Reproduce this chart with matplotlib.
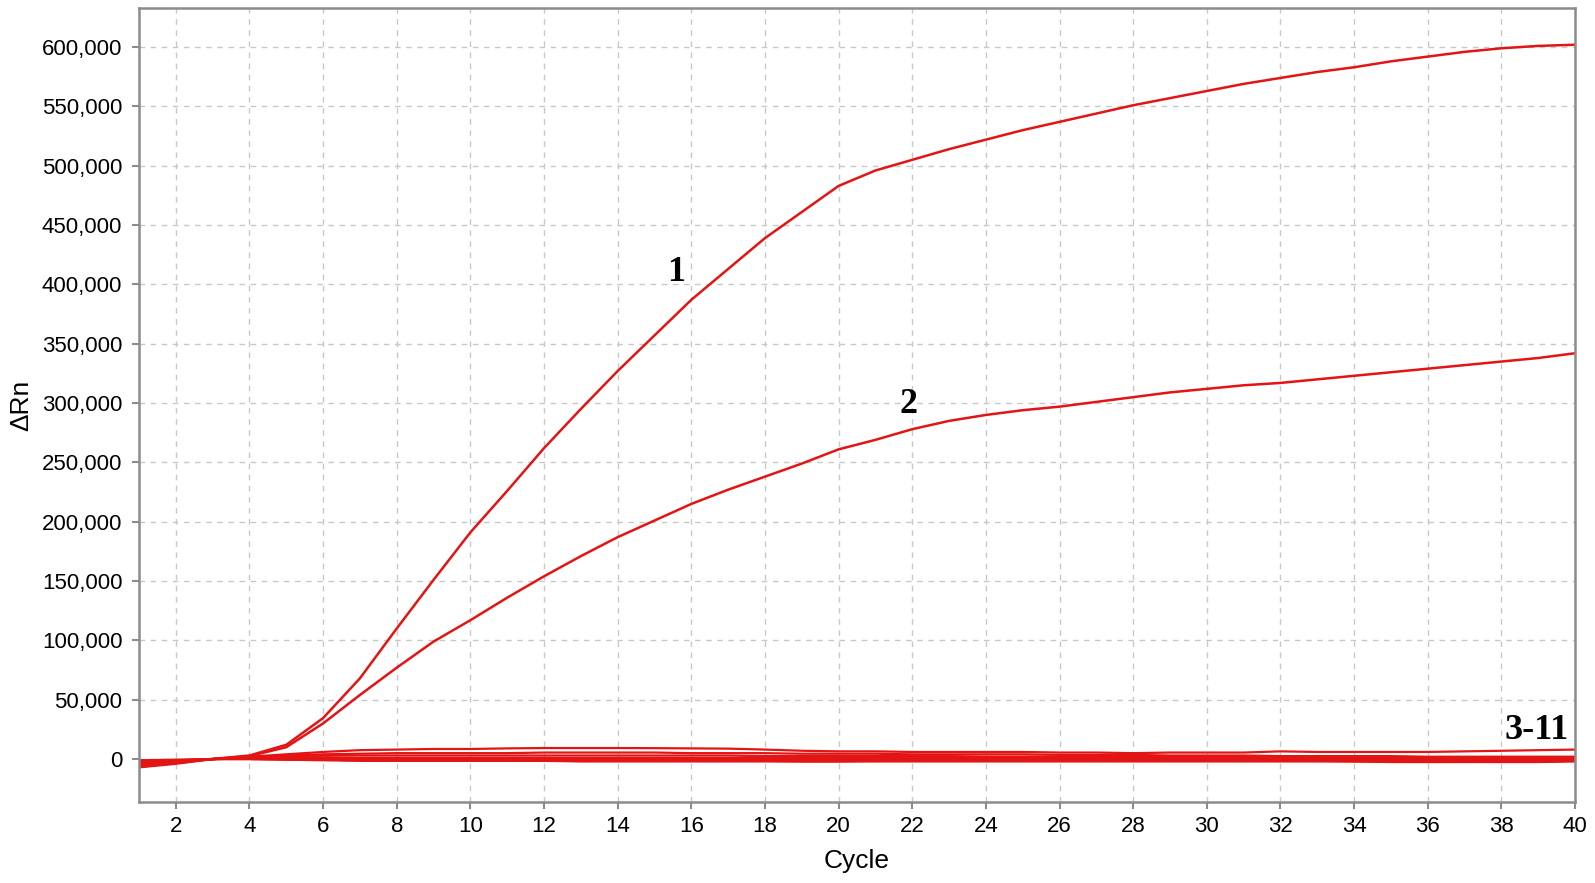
import matplotlib.pyplot as plt
from matplotlib.ticker import FuncFormatter

cycles = list(range(1, 41))

# amplification curves, values in delta Rn (in thousands)
curve1 = [-4, -2, 0, 3, 12, 34.5, 68, 110, 151, 191, 226, 262, 295, 327, 357, 387,
          413, 439, 461, 483, 496, 505, 514, 522, 530, 537, 544, 551, 557, 563,
          569, 574, 579, 583, 588, 592, 596, 599, 601, 602]
curve2 = [-3, -1.5, 0, 2.5, 10, 30, 54, 77, 99, 117, 136, 154, 171, 187, 201, 215,
          227, 238, 249, 261, 269, 278, 285, 290, 294, 297, 301, 305, 309, 312,
          315, 317, 320, 323, 326, 329, 332, 335, 338, 342]

# negative samples 3-11
neg = [
    [-1, -0.5, 0, 2, 4, 6, 7.5, 8, 8.5, 8.5, 9, 9.3, 9.3, 9.3, 9.2, 9, 8.8, 8, 7, 6.5,
     6.5, 6, 6, 6, 6, 5.5, 5.5, 5, 5.5, 5.5, 5.5, 6.5, 6, 6, 6, 6, 6.5, 7, 7.5, 8],
    [-2, -1, 0, 1.5, 3, 4, 4.5, 5, 5, 5, 5, 5.5, 5.5, 5.5, 5.5, 5, 5, 5, 4.5, 4.5,
     4.5, 4, 4, 4, 4, 3.5, 3.5, 3.5, 3, 3, 3, 2.5, 2.5, 2.5, 2.5, 2, 2, 2, 2, 2],
    [-3, -1.5, 0, 1.5, 2.5, 3, 3, 3, 3, 3, 3, 3, 3, 3, 3, 3, 3, 2.5, 2.5, 2.5,
     2.5, 2.5, 2.5, 2, 2, 2, 2, 2, 2, 2, 2, 2, 1.5, 1.5, 1.5, 1.5, 1.5, 1.5, 1.5, 1.5],
    [-4, -2, 0, 1, 1.5, 1.5, 1, 1, 1, 1, 1, 1, 1, 1, 1, 1, 1, 1, 1, 1,
     1, 1, 1, 1, 1, 1, 1, 1, 1, 1, 1, 1, 1, 1, 1, 1, 1, 0.5, 0.5, 0.5],
    [-5, -2.5, 0, 1, 1, 1, 0.5, 0.5, 0.5, 0.5, 0.5, 0, 0, 0, 0, 0, 0, 0, 0, 0,
     0, 0, 0, 0, 0, 0, 0, 0, 0.5, 0.5, 0.5, 0.5, 0, 0, 0, 0, 0, 0, 0, 0],
    [-5.5, -3, 0, 0.5, 0.5, 0.5, 0, 0, 0, 0, -0.5, -0.5, -0.5, -0.5, -0.5, -0.5, -0.5, -0.5, -0.5, -0.5,
     -0.5, -0.5, -0.5, -0.5, -0.5, -0.5, -0.5, -0.5, -0.5, -0.5, -0.5, -0.5, -0.5, -0.5, -1, -1, -1, -1, -1, -0.5],
    [-6, -3, 0, 0.5, 0, 0, -0.5, -0.5, -0.5, -0.5, -1, -1, -1, -1, -1, -1, -1, -1, -1.5, -1.5,
     -1, -1, -1, -1, -1, -1, -1, -1, -1, -1, -1, -1, -1, -1.5, -1.5, -1.5, -1.5, -1.5, -1.5, -1],
    [-6.5, -3.5, 0, 0, -0.5, -0.5, -1, -1, -1, -1, -1, -1.5, -1.5, -1.5, -1.5, -1.5, -1.5, -1.5, -2, -2,
     -1.5, -1.5, -1.5, -1.5, -1.5, -1.5, -1.5, -1.5, -1.5, -1.5, -1.5, -1.5, -1.5, -2, -2, -2, -2, -2, -2, -1.5],
    [-7, -4, 0, 0, -0.5, -1, -1.5, -1.5, -1.5, -1.5, -1.5, -1.5, -2, -2, -2, -2, -2, -2, -2, -2,
     -2, -2, -2, -2, -2, -2, -2, -2, -2, -2, -2, -2, -2, -2, -2.5, -2.5, -2.5, -2.5, -2.5, -2],
]

labels = ["1", "2", "3-11"]
label_pos = [(15.6, 410), (21.9, 299), (38.95, 24)]

red = "#e31414"
grey = "#8c8c8c"

plt.rcParams['font.family'] = ['Liberation Sans', 'DejaVu Sans']

fig = plt.figure(figsize=(15.95, 8.83), dpi=100)
ax = fig.add_axes([0.0871, 0.0917, 0.9004, 0.8993])

for series in neg:
    ax.plot(cycles, [v * 1000 for v in series], color=red, lw=1.6)
ax.plot(cycles, [v * 1000 for v in curve2], color=red, lw=1.8)
ax.plot(cycles, [v * 1000 for v in curve1], color=red, lw=1.8)

for txt, (x, y) in zip(labels, label_pos):
    ax.text(x, y * 1000, txt, family='Liberation Serif', weight='bold', fontsize=26,
            ha='center', va='center', color='black')

ax.set_xlim(1, 40)
ax.set_ylim(-36200, 633000)
ax.set_xticks(range(2, 41, 2))
ax.set_yticks(range(0, 600001, 50000))
ax.yaxis.set_major_formatter(FuncFormatter(lambda v, p: f"{int(v):,}"))

ax.grid(True, color='#c8c8c8', linestyle=(0, (4, 4)), linewidth=1.0)
for s in ax.spines.values():
    s.set_color(grey)
    s.set_linewidth(1.8)
ax.tick_params(length=5, width=1.5, color=grey, labelsize=16, pad=7)
ax.tick_params(axis='x', pad=5)

ax.set_xlabel("Cycle", fontsize=19, labelpad=9)
ax.set_ylabel("ΔRn", fontsize=19, labelpad=6)

fig.savefig("out.png", dpi=100)
